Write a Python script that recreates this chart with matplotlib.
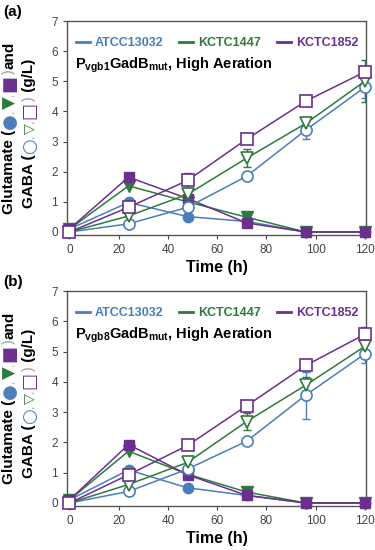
import numpy as np
import matplotlib
matplotlib.use("Agg")
import matplotlib.pyplot as plt
from matplotlib.lines import Line2D

plt.rcParams['font.family'] = ['Liberation Sans', 'DejaVu Sans']
plt.rcParams['mathtext.fontset'] = 'custom'
plt.rcParams['mathtext.rm'] = 'Liberation Sans'
plt.rcParams['mathtext.bf'] = 'Liberation Sans:bold'

time_h = [0, 24, 48, 72, 96, 120]
strains = ["ATCC13032", "KCTC1447", "KCTC1852"]
colors = ["#4a7ebb", "#2e7a3a", "#6b2f8f"]
markers = ["o", "v", "s"]
panel_labels = ["(a)", "(b)"]
promoters = ["vgb1", "vgb8"]

# Panel (a)
glu_a = [[0.1, 0.98, 0.51, 0.35, 0.0, 0.0],
         [0.1, 1.53, 1.0, 0.49, 0.0, 0.0],
         [0.1, 1.82, 1.11, 0.30, 0.0, 0.0]]
gaba_a = [[0.0, 0.27, 0.82, 1.85, 3.38, 4.80],
          [0.0, 0.53, 1.25, 2.45, 3.60, 5.00],
          [0.0, 0.82, 1.71, 3.08, 4.34, 5.31]]
gaba_err_a = [[0, 0, 0, 0.1, 0.3, 0.36],
              [0, 0, 0.15, 0.3, 0.1, 0.7],
              [0, 0, 0.25, 0, 0, 0]]
# Panel (b)
glu_b = [[0.1, 1.09, 0.50, 0.25, 0.0, 0.0],
         [0.1, 1.71, 0.95, 0.36, 0.0, 0.0],
         [0.1, 1.93, 0.93, 0.25, 0.0, 0.0]]
gaba_b = [[0.0, 0.38, 1.12, 2.04, 3.56, 4.92],
          [0.0, 0.61, 1.34, 2.69, 3.89, 5.17],
          [0.0, 0.93, 1.90, 3.21, 4.54, 5.57]]
gaba_err_b = [[0, 0, 0, 0, 0.78, 0.3],
              [0, 0, 0.2, 0.27, 0.28, 0.2],
              [0, 0, 0, 0, 0, 0.25]]

xticks = [0, 20, 40, 60, 80, 100, 120]
yticks = [0, 1, 2, 3, 4, 5, 6, 7]

W, H = 375, 550
fig = plt.figure(figsize=(3.75, 5.5), dpi=100)

panels = [(glu_a, gaba_a, gaba_err_a, 21, 235),
          (glu_b, gaba_b, gaba_err_b, 291, 506)]
spine_col = "#555555"
tick_col = "#444444"

for p, (glu, gaba, gerr, ytop, ybot) in enumerate(panels):
    ax = fig.add_axes([67 / W, 1 - ybot / H, (366 - 67) / W, (ybot - ytop) / H])
    t = np.array(time_h)
    for i in range(3):
        c = colors[i]
        ax.plot(t, glu[i], color=c, lw=1.1, marker=markers[i], ms=7.5 if i != 1 else 8,
                mfc=c, mec=c, zorder=3 + i, clip_on=False)
        e = np.array(gerr[i])
        m = e > 0
        ax.errorbar(t[m], np.array(gaba[i])[m], yerr=e[m], fmt='none', ecolor=c,
                    elinewidth=1.0, capsize=3, capthick=1.0, zorder=6 + i)
        ax.plot(t, gaba[i], color=c, lw=1.1, marker=markers[i], ms=8 if i != 1 else 8.5,
                mfc='white', mec=c, mew=1.2, zorder=9 + i, clip_on=False)
    ax.set_xlim(-1, 120.5)
    ax.set_ylim(-0.1, 7)
    ax.set_xticks(xticks)
    ax.set_yticks(yticks)
    ax.tick_params(labelsize=8.5, colors=tick_col, length=3, width=0.8, direction='out')
    for s in ax.spines.values():
        s.set_color(spine_col)
        s.set_linewidth(1.0)
    ax.set_xlabel("Time (h)", fontsize=11.5, fontweight='bold', labelpad=3)
    handles = [Line2D([0], [0], color=colors[i], lw=2) for i in range(3)]
    leg = ax.legend(handles, strains, loc='upper left', bbox_to_anchor=(0.0, 0.965),
                    ncol=3, frameon=False, handlelength=1.1, handletextpad=0.4,
                    columnspacing=1.3, borderaxespad=0.3,
                    prop={'weight': 'bold', 'size': 9})
    for txt, c in zip(leg.get_texts(), colors):
        txt.set_color(c)
    ax.text(0.027, 0.795,
            r"P$_{\mathbf{" + promoters[p] + r"}}$GadB$_{\mathbf{mut}}$, High Aeration",
            transform=ax.transAxes, fontsize=10.5, fontweight='bold', va='center', ha='left')
    fig.text(3 / W, 1 - (12 + (ytop - 21)) / H, panel_labels[p], fontsize=11,
             fontweight='bold', va='center', ha='left')

fig.canvas.draw()
renderer = fig.canvas.get_renderer()

gray = "#999999"
SYM = ['DejaVu Sans']
TXT = ['Liberation Sans']
line1 = [("Glutamate (", "black", 11, 'bold', TXT, 0), ("●", colors[0], 13, 'normal', SYM, 1.5),
         (",", gray, 9, 'normal', TXT, 0), ("▼", colors[1], 12, 'normal', SYM, 1.5),
         (",", gray, 9, 'normal', TXT, 0), ("■", colors[2], 13, 'normal', SYM, 1.5),
         (")", gray, 10, 'normal', TXT, 0), ("and", "black", 11, 'bold', TXT, 0)]
line2 = [("GABA (", "black", 11, 'bold', TXT, 0), ("○", colors[0], 13, 'normal', SYM, 1.5),
         (",", gray, 9, 'normal', TXT, 0), ("▽", colors[1], 10, 'normal', SYM, 0.5),
         (",", gray, 9, 'normal', TXT, 0), ("□", colors[2], 13, 'normal', SYM, 1.5),
         (")", gray, 10, 'normal', TXT, 0), (" (g/L)", "black", 11, 'bold', TXT, 0)]


def place(pieces, x_px, y_bottom_px):
    y = y_bottom_px
    for s, c, fs, fw, fam, dx in pieces:
        tx = fig.text((x_px + dx) / W, 1 - y / H, s, color=c, fontsize=fs, fontweight=fw,
                      rotation=90, rotation_mode='anchor', ha='left', va='baseline',
                      family=fam)
        bb = tx.get_window_extent(renderer)
        y -= bb.height + 0.5


for off in [0, 270]:
    place(line1, 13, 214 + off)
    place(line2, 33, 208 + off)

fig.savefig("out.png", dpi=100)
